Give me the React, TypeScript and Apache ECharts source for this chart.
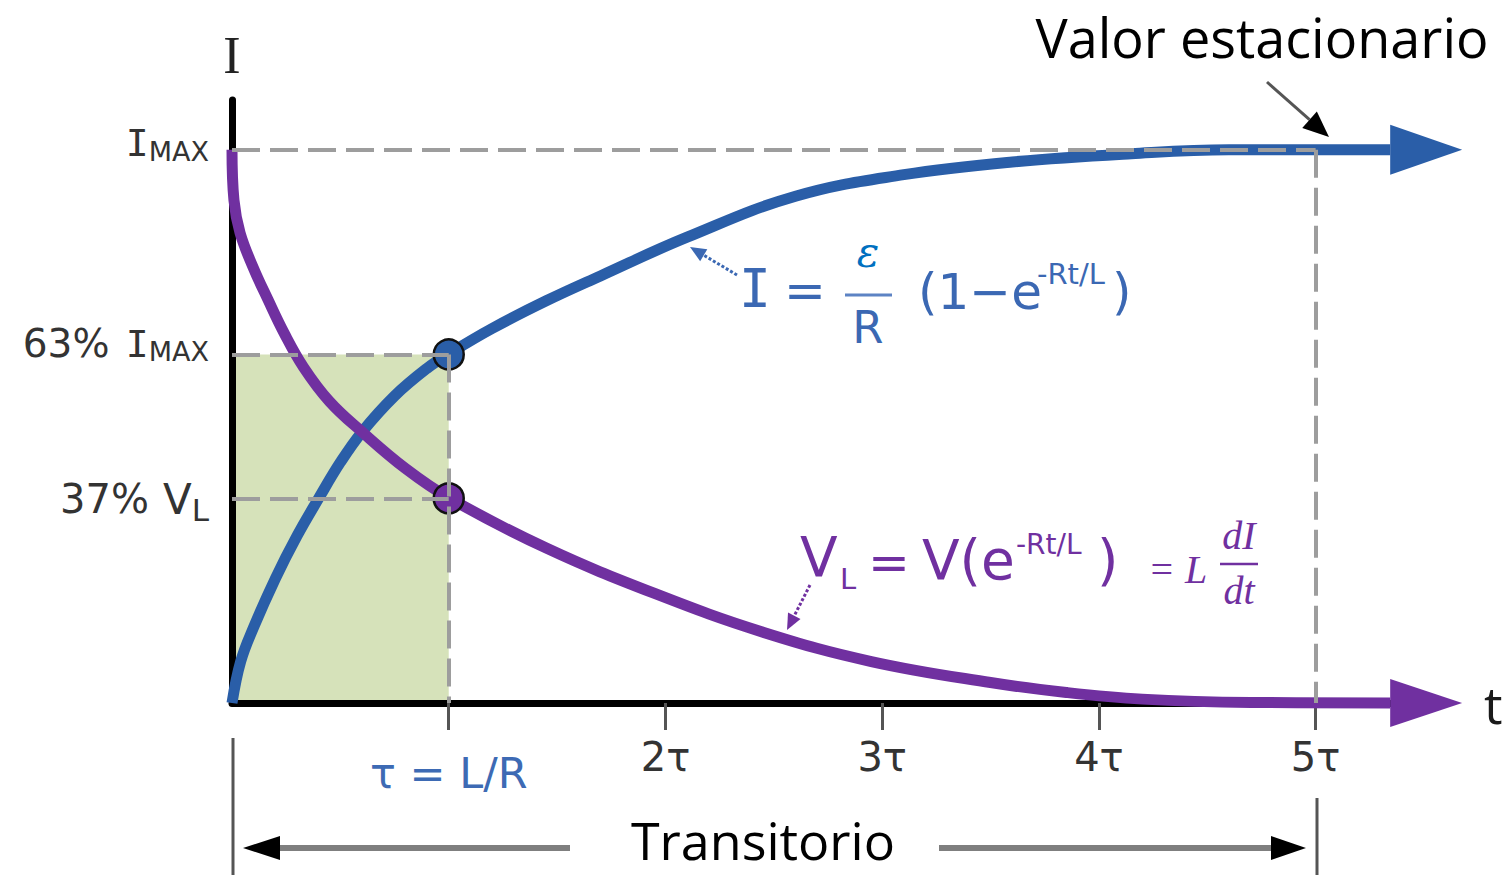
import React, { useEffect, useRef } from 'react';
import * as echarts from 'echarts';

// ---- data (t in units of tau, values as fraction of max) ----
const tTicks = [1, 2, 3, 4, 5];
const tTickLabels = ['τ = L/R', '2τ', '3τ', '4τ', '5τ'];
const yTicks = [1, 0.63, 0.37];
const yTickLabels = ['{i1|I}{s1|MAX}', '{n2|63% }{i2|I}{s2|MAX}', '{n3|37%}{v3|V}{s3|L}'];

const currentT = [0, 0.04, 0.1, 0.2, 0.3, 0.4, 0.5, 0.6, 0.75, 0.9, 1.0, 1.2, 1.45, 1.7, 2.1, 2.6, 3.1, 3.6, 4.15, 4.6, 5.344];
const currentI = [0, 0.075, 0.137, 0.225, 0.302, 0.37, 0.435, 0.49, 0.555, 0.605, 0.631, 0.677, 0.727, 0.772, 0.842, 0.916, 0.955, 0.978, 0.993, 1.0, 1.0];

const voltageT = [0, 0.009, 0.037, 0.097, 0.166, 0.24, 0.33, 0.45, 0.6, 0.8, 1.0, 1.45, 1.95, 2.45, 2.95, 3.5, 3.85, 4.2, 4.7, 5.344];
const voltageV = [1.0, 0.909, 0.85, 0.788, 0.729, 0.669, 0.607, 0.545, 0.49, 0.424, 0.371, 0.28, 0.198, 0.128, 0.075, 0.037, 0.019, 0.007, 0.001, 0];

const tauPoint = [1, 0.63];
const vlPoint = [1, 0.37];
const steadyT = 5;
const arrowTipT = 5.676;

const BLUE = '#2a5ea8';
const PURPLE = '#7030a0';
const FBLUE = '#3b68b3';
const GREY = '#9d9d9d';

function arrow(x1: number, y1: number, x2: number, y2: number, color: string, width: number, headLen: number, headHalf: number, dash?: number[], headColor?: string) {
  const dx = x2 - x1, dy = y2 - y1;
  const L = Math.hypot(dx, dy);
  const ux = dx / L, uy = dy / L;
  const bx = x2 - ux * headLen, by = y2 - uy * headLen;
  const px = -uy, py = ux;
  return [
    { type: 'line', z: 5, shape: { x1, y1, x2: bx, y2: by }, style: { stroke: color, lineWidth: width, lineDash: dash } },
    { type: 'polygon', z: 5, shape: { points: [[x2, y2], [bx + px * headHalf, by + py * headHalf], [bx - px * headHalf, by - py * headHalf]] }, style: { fill: headColor || color } },
  ];
}

function txt(text: string, x: number, y: number, font: string, fill: string, align = 'left') {
  return { type: 'text', z: 5, x, y, style: { text, font, fill, textAlign: align, textVerticalAlign: 'middle' } };
}

const SANS = '"DejaVu Sans"';
const MONO = '"DejaVu Sans Mono"';
const MATH = '"Liberation Serif"';

const graphics: any[] = [
  // blue formula
  txt('I', 755, 288, `53px ${MONO}`, FBLUE, 'center'),
  txt('=', 805, 291, `50px ${SANS}`, FBLUE, 'center'),
  { type: 'line', z: 5, shape: { x1: 845, y1: 295, x2: 892, y2: 295 }, style: { stroke: '#5d83c4', lineWidth: 3 } },
  txt('ε', 868, 252, `italic 42px "DejaVu Serif"`, '#0070c0', 'center'),
  txt('R', 868, 327, `45px ${SANS}`, FBLUE, 'center'),
  txt('(1−e', 918, 292, `50px ${SANS}`, FBLUE),
  txt('-Rt/L', 1037, 274, `29px ${SANS}`, FBLUE),
  txt(')', 1112, 292, `50px ${SANS}`, FBLUE),
  ...arrow(737, 275, 690, 247, FBLUE, 3, 16, 7, [3, 2]),
  // purple formula
  txt('V', 800, 557, `55px ${SANS}`, PURPLE),
  txt('L', 840, 579, `29px ${SANS}`, PURPLE),
  txt('=', 889, 563, `50px ${SANS}`, PURPLE, 'center'),
  txt('V(e', 922, 560, `55px ${SANS}`, PURPLE),
  txt('-Rt/L', 1016, 544, `28px ${SANS}`, PURPLE),
  txt(')', 1097, 560, `55px ${SANS}`, PURPLE),
  txt('= L', 1148, 569, `italic 40px ${MATH}`, PURPLE),
  txt('dI', 1239, 535, `italic 40px ${MATH}`, PURPLE, 'center'),
  { type: 'line', z: 5, shape: { x1: 1220, y1: 564, x2: 1258, y2: 564 }, style: { stroke: PURPLE, lineWidth: 2.5 } },
  txt('dt', 1239, 590, `italic 40px ${MATH}`, PURPLE, 'center'),
  ...arrow(810, 585, 787, 630, PURPLE, 3, 16, 7, [3, 2]),
  // steady state annotation
  txt('Valor estacionario', 1262, 37, `54px "Open Sans"`, '#000', 'center'),
  ...arrow(1267, 82, 1329, 137, '#555', 3, 26, 11, undefined, '#000'),
  // transient annotation
  txt('Transitorio', 763, 839, `52px "Open Sans"`, '#000', 'center'),
  ...arrow(570, 848, 243, 848, '#7f7f7f', 6, 37, 12, undefined, '#000'),
  ...arrow(939, 848, 1306, 848, '#7f7f7f', 6, 35, 12, undefined, '#000'),
  { type: 'line', z: 5, shape: { x1: 233, y1: 738, x2: 233, y2: 875 }, style: { stroke: '#555', lineWidth: 3 } },
  { type: 'line', z: 5, shape: { x1: 1317, y1: 798, x2: 1317, y2: 875 }, style: { stroke: '#555', lineWidth: 3 } },
];

function findIdx(arr: number[], v: number) {
  return arr.findIndex((a) => Math.abs(a - v) < 1e-6);
}

const dashedRefs = [
  [[0, 1], [steadyT, 1]],
  [[steadyT, 1], [steadyT, 0]],
  [[0, tauPoint[1]], [tauPoint[0], tauPoint[1]]],
  [[0, vlPoint[1]], [vlPoint[0], vlPoint[1]]],
  [[tauPoint[0], tauPoint[1]], [tauPoint[0], 0]],
];

const option: any = {
  animation: false,
  backgroundColor: '#ffffff',
  grid: { left: 232, right: 87, top: 100, bottom: 172, outerBoundsMode: 'none', containLabel: false },
  xAxis: {
    type: 'value',
    min: 0,
    max: 5.5,
    z: 1.5,
    name: 't',
    nameLocation: 'end',
    nameGap: 60,
    nameTextStyle: { fontFamily: 'Open Sans', fontSize: 52, color: '#1a1a1a', padding: [0, 0, 18, 0] },
    axisLine: { show: true, onZero: false, lineStyle: { color: '#000', width: 7 } },
    axisTick: { show: true, customValues: tTicks, length: 27, lineStyle: { color: '#555', width: 3 } },
    axisLabel: {
      show: true,
      customValues: tTicks,
      margin: 34,
      fontFamily: 'DejaVu Sans',
      fontSize: 40,
      color: '#333',
      formatter: (v: number) => {
        const i = findIdx(tTicks, v);
        if (i < 0) return '';
        return i === 0 ? `{tl|${tTickLabels[i]}}` : `{tk|${tTickLabels[i]}}`;
      },
      rich: {
        tl: { color: '#3d6ab4', fontFamily: 'DejaVu Sans', fontSize: 43, padding: [14, 0, 0, 0] },
        tk: { color: '#333', fontFamily: 'DejaVu Sans', fontSize: 40 },
      },
    },
    splitLine: { show: false },
  },
  yAxis: {
    type: 'value',
    min: 0,
    max: 1.09,
    z: 1.5,
    name: 'I',
    nameLocation: 'end',
    nameGap: 19,
    nameTextStyle: { fontFamily: 'Liberation Serif', fontSize: 52, color: '#222' },
    axisLine: { show: true, onZero: false, lineStyle: { color: '#000', width: 7 } },
    axisTick: { show: false },
    splitLine: { show: false },
    axisLabel: {
      show: true,
      customValues: yTicks,
      margin: 23,
      fontFamily: 'DejaVu Sans',
      fontSize: 38,
      color: '#333',
      formatter: (v: number) => {
        const i = findIdx(yTicks, v);
        return i < 0 ? '' : yTickLabels[i];
      },
      rich: {
        i1: { fontFamily: 'DejaVu Sans Mono', fontSize: 38, color: '#333', padding: [0, 0, 13, 0] },
        s1: { fontFamily: 'DejaVu Sans', fontSize: 27, color: '#333', padding: [3, 0, 0, 0] },
        n2: { fontFamily: 'DejaVu Sans', fontSize: 39, color: '#333', padding: [0, 4, 21, 0] },
        i2: { fontFamily: 'DejaVu Sans Mono', fontSize: 38, color: '#333', padding: [0, 0, 21, 0] },
        s2: { fontFamily: 'DejaVu Sans', fontSize: 27, color: '#333', padding: [0, 0, 6, 0] },
        n3: { fontFamily: 'DejaVu Sans', fontSize: 40, color: '#333', padding: [2, 14, 0, 0] },
        v3: { fontFamily: 'DejaVu Sans', fontSize: 42, color: '#333', padding: [2, 0, 0, 0] },
        s3: { fontFamily: 'DejaVu Sans', fontSize: 31, color: '#333', padding: [24, 0, 0, 0] },
      },
    },
  },
  series: [
    {
      type: 'line',
      data: [],
      z: 1,
      silent: true,
      markArea: {
        silent: true,
        itemStyle: { color: '#d6e2ba' },
        data: [[{ coord: [0, 0] }, { coord: [tauPoint[0], tauPoint[1]] }]],
      },
    },
    {
      type: 'line',
      data: [],
      z: 1.2,
      silent: true,
      markLine: {
        silent: true,
        symbol: ['none', 'none'],
        label: { show: false },
        lineStyle: { color: GREY, width: 4, type: [28, 10], opacity: 1 },
        data: dashedRefs.map(([a, b]) => [{ coord: a }, { coord: b }]),
      },
    },
    {
      type: 'line',
      data: currentT.map((t, i) => [t, currentI[i]]),
      smooth: 0.4,
      symbol: 'none',
      z: 2,
      clip: false,
      silent: true,
      lineStyle: { color: BLUE, width: 11 },
    },
    {
      type: 'line',
      data: voltageT.map((t, i) => [t, voltageV[i]]),
      smooth: 0.4,
      symbol: 'none',
      z: 2,
      clip: false,
      silent: true,
      lineStyle: { color: PURPLE, width: 11 },
    },
    {
      type: 'scatter',
      data: [tauPoint],
      z: 3,
      silent: true,
      symbolSize: 30,
      itemStyle: { color: BLUE, borderColor: '#111', borderWidth: 2.5, opacity: 1 },
    },
    {
      type: 'scatter',
      data: [vlPoint],
      z: 3,
      silent: true,
      symbolSize: 30,
      itemStyle: { color: PURPLE, borderColor: '#111', borderWidth: 2.5, opacity: 1 },
    },
  ],
};

function arrowHead(chart: any, fromPt: number[], tipPt: number[], half: number, color: string) {
  const b = chart.convertToPixel({ gridIndex: 0 }, fromPt);
  const t = chart.convertToPixel({ gridIndex: 0 }, tipPt);
  return {
    type: 'polygon',
    z: 10,
    shape: { points: [[t[0], t[1]], [b[0], b[1] - half], [b[0], b[1] + half]] },
    style: { fill: color },
  };
}

export default function App() {
  const ref = useRef<HTMLDivElement>(null);
  useEffect(() => {
    const chart = echarts.init(ref.current!, null, { renderer: 'svg' });
    chart.setOption(option);
    const lastI = currentT.length - 1;
    const lastV = voltageT.length - 1;
    const heads = [
      arrowHead(chart, [currentT[lastI], currentI[lastI]], [arrowTipT, currentI[lastI]], 25, BLUE),
      arrowHead(chart, [voltageT[lastV], voltageV[lastV]], [arrowTipT, voltageV[lastV]], 24, PURPLE),
    ];
    chart.setOption({ graphic: [...graphics, ...heads] });
    return () => chart.dispose();
  }, []);
  return (
    <div
      ref={ref}
      style={{ position: 'absolute', left: 0, top: 0, width: 1511, height: 875, background: '#fff' }}
    />
  );
}
